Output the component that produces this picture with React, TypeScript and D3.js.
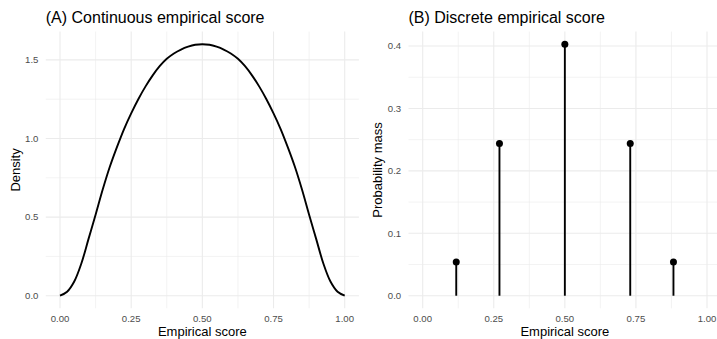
import React from "react";
import * as d3 from "d3";

// Panel A: continuous density curve
const scoreGrid = [
  0, 0.025, 0.05, 0.075, 0.1, 0.125, 0.15, 0.175, 0.2, 0.225, 0.25, 0.275, 0.3, 0.325, 0.35, 0.375, 0.4, 0.425, 0.45, 0.475, 0.5,
  0.525, 0.55, 0.575, 0.6, 0.625, 0.65, 0.675, 0.7, 0.725, 0.75, 0.775, 0.8, 0.825, 0.85, 0.875, 0.9, 0.925, 0.95, 0.975, 1,
];
const densityValues = [
  0, 0.025, 0.09, 0.205, 0.36, 0.515, 0.675, 0.82, 0.945, 1.06, 1.16, 1.25, 1.33, 1.4, 1.46, 1.507, 1.541, 1.566, 1.584, 1.596, 1.6,
  1.596, 1.584, 1.566, 1.541, 1.507, 1.46, 1.4, 1.33, 1.25, 1.16, 1.06, 0.945, 0.82, 0.675, 0.515, 0.36, 0.205, 0.09, 0.025, 0,
];

// Panel B: discrete probability mass
const discreteScores = [0.118, 0.27, 0.5, 0.73, 0.882];
const massValues = [0.054, 0.244, 0.403, 0.244, 0.054];

const xTicks = [0, 0.25, 0.5, 0.75, 1];
const xTickLabels = ["0.00", "0.25", "0.50", "0.75", "1.00"];
const xMinor = [0.125, 0.375, 0.625, 0.875];
const yTicksA = [0, 0.5, 1, 1.5];
const yTickLabelsA = ["0.0", "0.5", "1.0", "1.5"];
const yMinorA = [0.25, 0.75, 1.25];
const yTicksB = [0, 0.1, 0.2, 0.3, 0.4];
const yTickLabelsB = ["0.0", "0.1", "0.2", "0.3", "0.4"];
const yMinorB = [0.05, 0.15, 0.25, 0.35];

const FONT = "'Liberation Sans', Arial, Helvetica, sans-serif";
const GRID = "#ebebeb";
const TICK = "#4d4d4d";

const W = 717;
const H = 339;
const top = 31.6;
const bottom = 308.3;

function Panel(props: {
  left: number;
  right: number;
  x: d3.ScaleLinear<number, number>;
  y: d3.ScaleLinear<number, number>;
  yTicks: number[];
  yLabels: string[];
  yMinor: number[];
  title: string;
  yTitle: string;
  yTitleX: number;
  children: React.ReactNode;
}) {
  const { left, right, x, y, yTicks, yLabels, yMinor, title, yTitle, yTitleX } = props;
  const cy = (top + bottom) / 2;
  return (
    <g>
      {xMinor.map((v) => (
        <line key={"xm" + v} x1={x(v)} x2={x(v)} y1={top} y2={bottom} stroke={GRID} strokeWidth={0.6} />
      ))}
      {yMinor.map((v) => (
        <line key={"ym" + v} x1={left} x2={right} y1={y(v)} y2={y(v)} stroke={GRID} strokeWidth={0.6} />
      ))}
      {xTicks.map((v) => (
        <line key={"xM" + v} x1={x(v)} x2={x(v)} y1={top} y2={bottom} stroke={GRID} strokeWidth={1.1} />
      ))}
      {yTicks.map((v) => (
        <line key={"yM" + v} x1={left} x2={right} y1={y(v)} y2={y(v)} stroke={GRID} strokeWidth={1.1} />
      ))}
      {xTicks.map((v, i) => (
        <text key={"xl" + v} x={x(v)} y={322.3} textAnchor="middle" fontSize={9.6} fill={TICK} fontFamily={FONT}>
          {xTickLabels[i]}
        </text>
      ))}
      {yTicks.map((v, i) => (
        <text key={"yl" + v} x={left - 7.3} y={y(v)} dy="0.35em" textAnchor="end" fontSize={9.6} fill={TICK} fontFamily={FONT}>
          {yLabels[i]}
        </text>
      ))}
      <text x={x(0.5)} y={335.7} textAnchor="middle" fontSize={13} fill="#000" fontFamily={FONT}>
        Empirical score
      </text>
      <text
        transform={`translate(${yTitleX},${cy}) rotate(-90)`}
        textAnchor="middle"
        fontSize={13}
        fill="#000"
        fontFamily={FONT}
      >
        {yTitle}
      </text>
      <text x={left} y={23.3} fontSize={16} fill="#000" fontFamily={FONT}>
        {title}
      </text>
      {props.children}
    </g>
  );
}

export default function App() {
  const xA = d3.scaleLinear().domain([0, 1]).range([60, 344.7]);
  const [aLo, aHi] = d3.extent(densityValues) as [number, number];
  const padA = (aHi - aLo) * 0.05;
  const yA = d3.scaleLinear().domain([aLo - padA, aHi + padA]).range([bottom, top]);
  const leftA = xA(-0.05);
  const rightA = xA(1.05);

  const xB = d3.scaleLinear().domain([0, 1]).range([422.7, 707]);
  const bHi = d3.max(massValues) as number;
  const padB = bHi * 0.05;
  const yB = d3.scaleLinear().domain([0 - padB, bHi + padB]).range([bottom, top]);
  const leftB = xB(-0.05);
  const rightB = xB(1.05);

  const line = d3
    .line<number>()
    .x((_, i) => xA(scoreGrid[i]))
    .y((d) => yA(d))
    .curve(d3.curveCatmullRom.alpha(0.5));

  return (
    <svg
      width={W}
      height={H}
      style={{ position: "absolute", left: 0, top: 0, background: "#fff" }}
      xmlns="http://www.w3.org/2000/svg"
    >
      <rect width={W} height={H} fill="#fff" />
      <Panel
        left={leftA}
        right={rightA}
        x={xA}
        y={yA}
        yTicks={yTicksA}
        yLabels={yTickLabelsA}
        yMinor={yMinorA}
        title="(A) Continuous empirical score"
        yTitle="Density"
        yTitleX={19.5}
      >
        <path d={line(densityValues) || ""} fill="none" stroke="#000" strokeWidth={1.9} />
      </Panel>
      <Panel
        left={leftB}
        right={rightB}
        x={xB}
        y={yB}
        yTicks={yTicksB}
        yLabels={yTickLabelsB}
        yMinor={yMinorB}
        title="(B) Discrete empirical score"
        yTitle="Probability mass"
        yTitleX={382}
      >
        {discreteScores.map((s, i) => (
          <g key={"st" + i}>
            <line x1={xB(s)} x2={xB(s)} y1={yB(0)} y2={yB(massValues[i])} stroke="#000" strokeWidth={1.9} />
            <circle cx={xB(s)} cy={yB(massValues[i])} r={3.5} fill="#000" />
          </g>
        ))}
      </Panel>
    </svg>
  );
}
